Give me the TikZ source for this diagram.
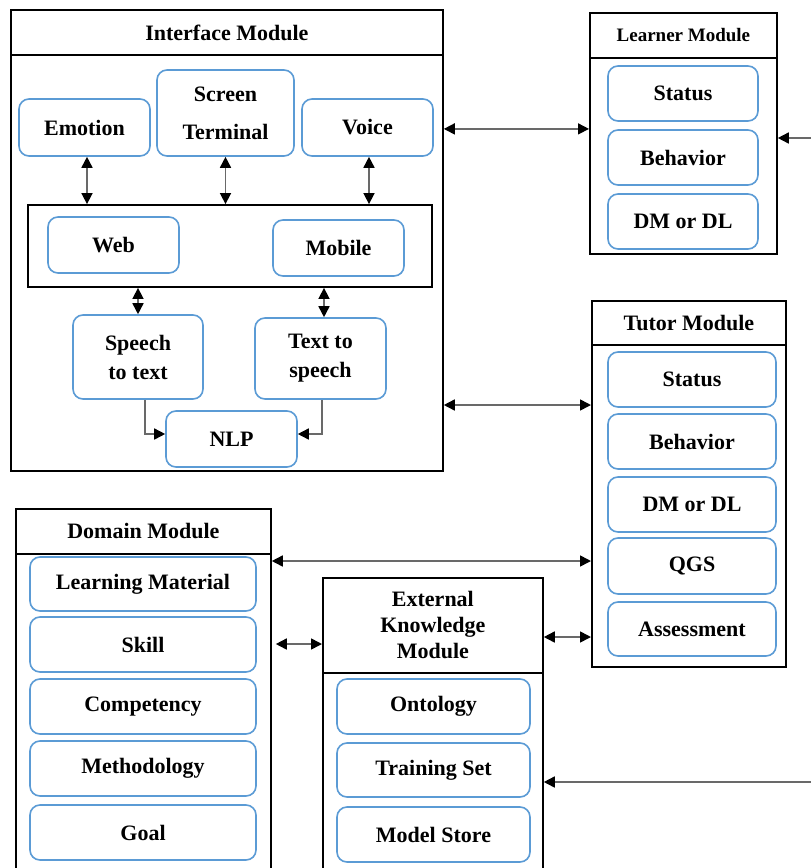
\documentclass[tikz,border=0pt]{standalone}
\usepackage{fontspec}
\setmainfont{Liberation Serif}
\usepackage{tikz}
\usetikzlibrary{arrows.meta}

\definecolor{boxblue}{RGB}{91,155,213}
\definecolor{linegray}{RGB}{105,105,105}

\begin{document}
\begin{tikzpicture}[x=1pt,y=1pt,yscale=-1,
    module/.style={draw, line width=1.8pt, anchor=north west, inner sep=0pt},
    modtitle/.style={draw, line width=1.8pt, anchor=north west, inner sep=0pt, align=center,
        font=\fontsize{22}{26}\selectfont\bfseries},
    part/.style={draw=boxblue, line width=1.6pt, rounded corners=10pt, inner sep=0pt, align=center,
        font=\fontsize{22}{29}\selectfont\bfseries},
    link/.style={draw=linegray, line width=1.6pt,
        {Triangle[length=11pt,width=11pt,color=black]}-{Triangle[length=11pt,width=11pt,color=black]}},
    onelink/.style={draw=linegray, line width=1.6pt, -{Triangle[length=11pt,width=11pt,color=black]}}]
    \useasboundingbox (0,0) rectangle (811,868);
    \clip (0,0) rectangle (811,868);

    %Shape: Module [Interface]
    \node[module, minimum width=432pt, minimum height=461pt] (ifc) at (10,9) {};
    \node[modtitle, minimum width=432pt, minimum height=45pt] (ifct) at (10,9) {Interface Module};
    \node[part, minimum width=131pt, minimum height=57pt] (emo) at (84.5,127.5) {Emotion};
    \node[part, minimum width=137pt, minimum height=86pt] (scr) at (225.5,113) {Screen\\[9pt]Terminal};
    \node[part, minimum width=131pt, minimum height=57pt] (voi) at (367.5,127.5) {Voice};
    %Shape: Rectangle [devices]
    \node[draw, line width=1.8pt, minimum width=404pt, minimum height=82pt] (dev) at (230,246) {};
    \node[part, minimum width=131pt, minimum height=56pt] (web) at (113.5,245) {Web};
    \node[part, minimum width=131pt, minimum height=56pt] (mob) at (338.5,248) {Mobile};
    \node[part, minimum width=130pt, minimum height=84pt] (stt) at (138,357) {Speech\\to text};
    \node[part, minimum width=131pt, minimum height=81pt] (tts) at (320.5,358.5) {Text to\\speech};
    \node[part, minimum width=131pt, minimum height=56pt] (nlp) at (231.5,439) {NLP};

    %Straight Lines [Interface]
    \draw[link] ([xshift=2.5pt]emo.south) -- ([xshift=2.5pt]emo.south |- dev.north);
    \draw[link] (scr.south) -- (scr.south |- dev.north);
    \draw[link] ([xshift=1.5pt]voi.south) -- ([xshift=1.5pt]voi.south |- dev.north);
    \draw[link] (stt.north |- dev.south) -- (stt.north);
    \draw[link] ([xshift=3.5pt]tts.north |- dev.south) -- ([xshift=3.5pt]tts.north);
    \draw[onelink] ([xshift=7pt]stt.south) |- ([yshift=-5pt]nlp.west);
    \draw[onelink] ([xshift=1.5pt]tts.south) |- ([yshift=-5pt]nlp.east);

    %Shape: Module [Learner]
    \node[module, minimum width=187pt, minimum height=241pt] (lrn) at (589,12) {};
    \node[modtitle, minimum width=187pt, minimum height=45pt, font=\fontsize{19}{22}\selectfont\bfseries] (lrnt) at (589,12) {Learner Module};
    \node[part, minimum width=150pt, minimum height=55pt] (lsta) at (683,93.5) {Status};
    \node[part, minimum width=150pt, minimum height=55pt] (lbeh) at (683,157.5) {Behavior};
    \node[part, minimum width=150pt, minimum height=55pt] (ldm) at (683,221.5) {DM or DL};

    %Shape: Module [Tutor]
    \node[module, minimum width=194pt, minimum height=366pt] (tut) at (591,300) {};
    \node[modtitle, minimum width=194pt, minimum height=44pt] (tutt) at (591,300) {Tutor Module};
    \node[part, minimum width=168pt, minimum height=55pt] (tsta) at (692,379.5) {Status};
    \node[part, minimum width=168pt, minimum height=55pt] (tbeh) at (692,441.5) {Behavior};
    \node[part, minimum width=168pt, minimum height=55pt] (tdm) at (692,504.5) {DM or DL};
    \node[part, minimum width=168pt, minimum height=56pt] (tqgs) at (692,566) {QGS};
    \node[part, minimum width=168pt, minimum height=54pt] (tass) at (692,629) {Assessment};

    %Shape: Module [Domain]
    \node[module, minimum width=255pt, minimum height=400pt] (dom) at (15,508) {};
    \node[modtitle, minimum width=255pt, minimum height=45pt] (domt) at (15,508) {Domain Module};
    \node[part, minimum width=226pt, minimum height=54pt] (dlm) at (143,584) {Learning Material};
    \node[part, minimum width=226pt, minimum height=55pt] (dski) at (143,644.5) {Skill};
    \node[part, minimum width=226pt, minimum height=55pt] (dcom) at (143,706.5) {Competency};
    \node[part, minimum width=226pt, minimum height=55pt] (dmet) at (143,768.5) {Methodology};
    \node[part, minimum width=226pt, minimum height=55pt] (dgoa) at (143,832.5) {Goal};

    %Shape: Module [External Knowledge]
    \node[module, minimum width=220pt, minimum height=330pt] (ext) at (322,577) {};
    \node[modtitle, minimum width=220pt, minimum height=95pt] (extt) at (322,577) {External\\Knowledge\\Module};
    \node[part, minimum width=193pt, minimum height=55pt] (eont) at (433.5,706.5) {Ontology};
    \node[part, minimum width=193pt, minimum height=54pt] (etrn) at (433.5,770) {Training Set};
    \node[part, minimum width=193pt, minimum height=55pt] (emod) at (433.5,834.5) {Model Store};

    %Straight Lines [between modules]
    \coordinate (lrnin) at (811,138);
    \coordinate (extin) at (811,782);
    \draw[link] ([yshift=-4.5pt]ifc.east |- lrn.west) -- ([yshift=-4.5pt]lrn.west);
    \draw[onelink] (lrnin) -- (lrnin -| lrn.east);
    \draw[link] (ifc.east |- 0,405) -- (tut.west |- 0,405);
    \draw[link] (dom.east |- 0,561) -- (tut.west |- 0,561);
    \draw[link] ([xshift=4pt]dom.east |- 0,644) -- (ext.west |- 0,644);
    \draw[link] (ext.east |- 0,637) -- (tut.west |- 0,637);
    \draw[onelink] (extin) -- (extin -| ext.east);

\end{tikzpicture}
\end{document}
